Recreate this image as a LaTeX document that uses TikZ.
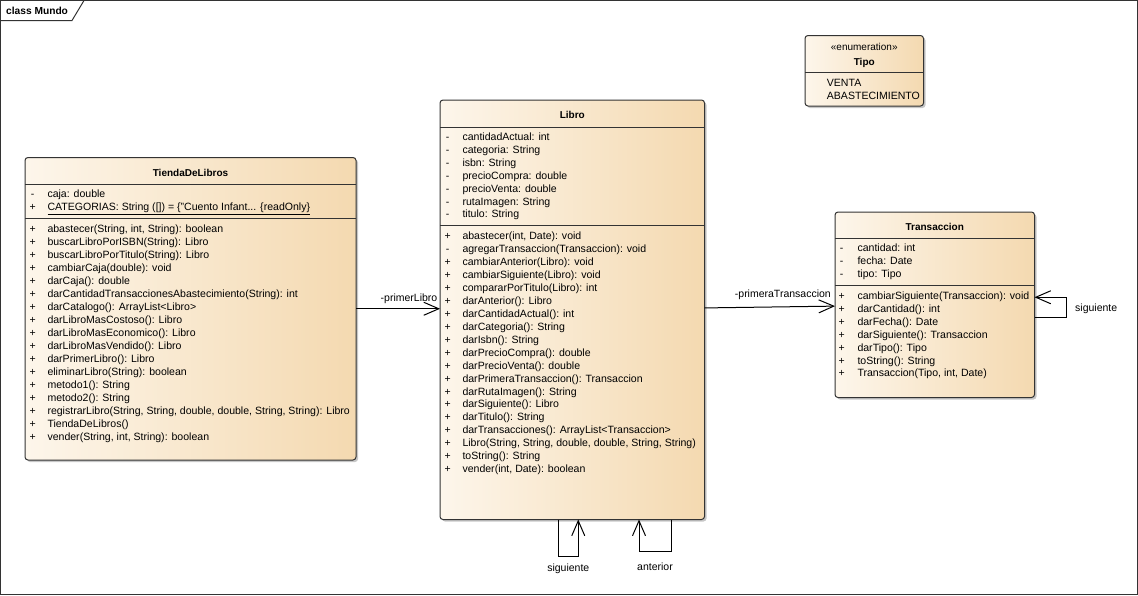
\documentclass[tikz,border=0pt]{standalone}
\usepackage{fontspec}
\setmainfont{Liberation Sans}
\usetikzlibrary{arrows.meta,shadows}

\definecolor{boxleft}{HTML}{FDF6EB}
\definecolor{boxright}{HTML}{F4D9B0}
\definecolor{boxline}{HTML}{333333}

\tikzset{
  classbox/.style={draw=boxline, line width=1pt, rounded corners=3pt,
    left color=boxleft, right color=boxright, anchor=north west,
    inner sep=0pt, outer sep=0pt,
    drop shadow={shadow xshift=2pt, shadow yshift=-2pt, opacity=0.22, fill=black}},
  sepline/.style={draw=boxline, line width=1pt},
  framel/.style={draw=black!80, line width=1pt},
  vis/.style={anchor=base, inner sep=0pt, font=\fontsize{10.5}{13}\selectfont},
  member/.style={anchor=base west, inner sep=0pt, font=\fontsize{10.55}{13}\selectfont},
  classname/.style={anchor=base, inner sep=0pt, font=\fontsize{10}{12}\selectfont\bfseries},
  lbl/.style={inner sep=0pt, font=\fontsize{10.5}{13}\selectfont},
  assoc/.style={draw=black, line width=1pt,
    -{Straight Barb[length=15pt,width=13pt]}},
}

% rows of a compartment: prefix, x of the visibility mark, x of the text,
% baseline of the first row, list of mark/text pairs
\newcommand\classrows[5]{%
  \foreach \m/\t [count=\k from 0] in {#5}{%
    \node[vis] (#1-v\k) at (#2,{#4+12.96*\k}) {\m};
    \node[member] (#1-t\k) at (#3,{#4+12.96*\k}) {\t};
  }}

\begin{document}
\begin{tikzpicture}[x=1pt,y=-1pt]
\useasboundingbox (0,0) rectangle (1138,595);
\fill[white] (0,0) rectangle (1138,595);

% diagram frame with its name tab
\draw[framel] (0.5,0.5) rectangle (1137.5,594.5);
\draw[framel] (0.5,20.5) -- (72,20.5) -- (84,0.5);
\node[anchor=base west, inner sep=0pt, font=\fontsize{10.2}{12}\selectfont\bfseries]
  (frametitle) at (6,14) {class Mundo};

% ---------------- TiendaDeLibros ----------------
\node[classbox, minimum width=331pt, minimum height=302.5pt] (tienda) at (25,157.5) {};
\node[classname] (tienda-name) at (190.5,176.3) {TiendaDeLibros};
\draw[sepline] (25,184.5) -- (356,184.5);
\draw[sepline] (25,218) -- (356,218);
\classrows{tienda-a}{32.7}{47.3}{197.8}{-/{caja: double},
  +/{\underline{CATEGORIAS: String ([]) = \{"Cuento Infant... \{readOnly\}}}}
\classrows{tienda-o}{32.7}{47.3}{232.8}{
  +/{abastecer(String, int, String): boolean},
  +/{buscarLibroPorISBN(String): Libro},
  +/{buscarLibroPorTitulo(String): Libro},
  +/{cambiarCaja(double): void},
  +/{darCaja(): double},
  +/{darCantidadTransaccionesAbastecimiento(String): int},
  +/{darCatalogo(): ArrayList<Libro>},
  +/{darLibroMasCostoso(): Libro},
  +/{darLibroMasEconomico(): Libro},
  +/{darLibroMasVendido(): Libro},
  +/{darPrimerLibro(): Libro},
  +/{eliminarLibro(String): boolean},
  +/{metodo1(): String},
  +/{metodo2(): String},
  +/{registrarLibro(String, String, double, double, String, String): Libro},
  +/{TiendaDeLibros()},
  +/{vender(String, int, String): boolean}}

% ---------------- Libro ----------------
\node[classbox, minimum width=264.5pt, minimum height=419.5pt] (libro) at (440,100) {};
\node[classname] (libro-name) at (572.25,118.6) {Libro};
\draw[sepline] (440,127.3) -- (704.5,127.3);
\draw[sepline] (440,225) -- (704.5,225);
\classrows{libro-a}{447.7}{462.3}{140.2}{
  -/{cantidadActual: int},
  -/{categoria: String},
  -/{isbn: String},
  -/{precioCompra: double},
  -/{precioVenta: double},
  -/{rutaImagen: String},
  -/{titulo: String}}
\classrows{libro-o}{447.7}{462.3}{239.5}{
  +/{abastecer(int, Date): void},
  -/{agregarTransaccion(Transaccion): void},
  +/{cambiarAnterior(Libro): void},
  +/{cambiarSiguiente(Libro): void},
  +/{compararPorTitulo(Libro): int},
  +/{darAnterior(): Libro},
  +/{darCantidadActual(): int},
  +/{darCategoria(): String},
  +/{darIsbn(): String},
  +/{darPrecioCompra(): double},
  +/{darPrecioVenta(): double},
  +/{darPrimeraTransaccion(): Transaccion},
  +/{darRutaImagen(): String},
  +/{darSiguiente(): Libro},
  +/{darTitulo(): String},
  +/{darTransacciones(): ArrayList<Transaccion>},
  +/{Libro(String, String, double, double, String, String)},
  +/{toString(): String},
  +/{vender(int, Date): boolean}}

% ---------------- Transaccion ----------------
\node[classbox, minimum width=199.5pt, minimum height=185.5pt] (trans) at (835,212) {};
\node[classname] (trans-name) at (934.75,230.3) {Transaccion};
\draw[sepline] (835,238.3) -- (1034.5,238.3);
\draw[sepline] (835,285) -- (1034.5,285);
\classrows{trans-a}{841.7}{857.3}{251.8}{
  -/{cantidad: int},
  -/{fecha: Date},
  -/{tipo: Tipo}}
\classrows{trans-o}{841.7}{857.3}{299.2}{
  +/{cambiarSiguiente(Transaccion): void},
  +/{darCantidad(): int},
  +/{darFecha(): Date},
  +/{darSiguiente(): Transaccion},
  +/{darTipo(): Tipo},
  +/{toString(): String},
  +/{Transaccion(Tipo, int, Date)}}

% ---------------- Tipo (enumeration) ----------------
\node[classbox, minimum width=118.5pt, minimum height=70.5pt] (tipo) at (805,35.5) {};
\node[anchor=base, inner sep=0pt, font=\fontsize{10}{12}\selectfont] (tipo-stereo) at (864.25,50) {«enumeration»};
\node[classname] (tipo-name) at (864.25,65) {Tipo};
\draw[sepline] (805,72.7) -- (923.5,72.7);
\node[member] (tipo-l1) at (826.7,86.5) {VENTA};
\node[member] (tipo-l2) at (826.7,99.3) {ABASTECIMIENTO};

% ---------------- associations ----------------
\draw[assoc] (tienda.east) -- (tienda.east -| libro.west);
\node[lbl, anchor=east] (lbl-primerLibro) at (437.5,298.5) {-primerLibro};

\draw[assoc] (libro) -- (trans);
\node[lbl, anchor=east] (lbl-primeraTrans) at (831,294.5) {-primeraTransaccion};

\draw[assoc] ([yshift=-12.5pt]trans.east) -- ++(32,0) |- ([yshift=7.5pt]trans.east);
\node[lbl, anchor=west] (lbl-trans-sig) at (1075,309) {siguiente};

\draw[assoc] ([xshift=-14pt]libro.south) -- ++(0,36.5) -| ([xshift=6pt]libro.south);
\node[lbl] (lbl-libro-sig) at (568.3,568.3) {siguiente};

\draw[assoc] ([xshift=99.5pt]libro.south) -- ++(0,32.2) -| ([xshift=66.75pt]libro.south);
\node[lbl] (lbl-libro-ant) at (655,566.7) {anterior};
\end{tikzpicture}
\end{document}
